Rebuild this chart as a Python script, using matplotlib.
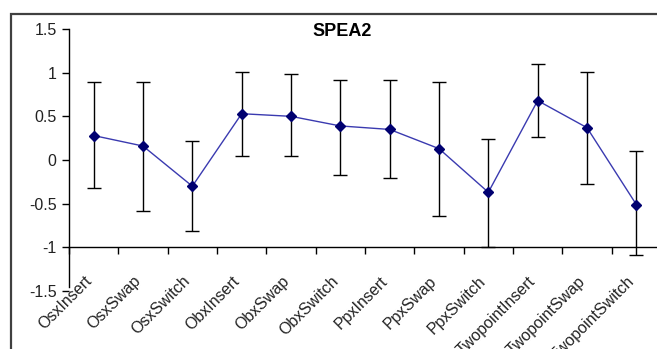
import matplotlib
matplotlib.use("Agg")
import matplotlib.pyplot as plt
from matplotlib.patches import Rectangle
import numpy as np

plt.rcParams['font.family'] = ['Liberation Sans', 'DejaVu Sans']

categories = ["OsxInsert", "OsxSwap", "OsxSwitch", "ObxInsert", "ObxSwap", "ObxSwitch",
              "PpxInsert", "PpxSwap", "PpxSwitch", "TwopointInsert", "TwopointSwap",
              "TwopointSwitch"]
means = [0.28, 0.16, -0.30, 0.53, 0.50, 0.39, 0.35, 0.13, -0.37, 0.68, 0.37, -0.51]
upper = [0.89, 0.89, 0.22, 1.01, 0.98, 0.92, 0.92, 0.89, 0.24, 1.10, 1.01, 0.10]
lower = [-0.32, -0.58, -0.81, 0.05, 0.05, -0.17, -0.21, -0.64, -1.00, 0.26, -0.28, -1.09]
yticks = [-1.5, -1, -0.5, 0, 0.5, 1, 1.5]
ytick_labels = ["-1.5", "-1", "-0.5", "0", "0.5", "1", "1.5"]

W, H = 657, 349
fig = plt.figure(figsize=(W / 100, H / 100), dpi=100)

# chart frame, running off the right and bottom edges
fig.patches.append(Rectangle((11 / W, -0.05), 1.0, 1 - 14 / H + 0.05,
                             transform=fig.transFigure, fill=False,
                             edgecolor="#404040", linewidth=1.6))

ax = fig.add_axes([69 / W, (H - 291) / H, (661 - 69) / W, (291 - 29) / H])
ax.patch.set_visible(False)

x = np.arange(len(categories)) + 0.5
m = np.array(means)
yerr = np.vstack([m - np.array(lower), np.array(upper) - m])

ax.errorbar(x, m, yerr=yerr, fmt="none", ecolor="black", elinewidth=1.0,
            capsize=5, capthick=1.0, clip_on=False, zorder=2)
ax.plot(x, m, color="#3a3ab0", linewidth=1.0, zorder=3, clip_on=False)
ax.plot(x, m, linestyle="none", marker="D", markersize=5, color="#000070",
        zorder=4, clip_on=False)

ax.set_xlim(0, 12)
ax.set_ylim(-1.5, 1.5)

ax.spines["top"].set_visible(False)
ax.spines["right"].set_visible(False)
ax.spines["bottom"].set_position(("data", -1))
ax.spines["left"].set_bounds(-1.45, 1.5)
for s in ("left", "bottom"):
    ax.spines[s].set_linewidth(1.0)
    ax.spines[s].set_color("black")

ax.set_yticks(yticks)
ax.set_yticklabels(ytick_labels, fontsize=11.5, color="#222222")
ax.tick_params(axis="y", direction="out", length=5, width=1, pad=4)

ax.set_xticks(np.arange(0, 13))
ax.set_xticklabels([])
ax.tick_params(axis="x", direction="out", length=5, width=1)

for xi, lab in zip(x, categories):
    ax.text(xi - 0.2, -1.3, lab, rotation=45, ha="right", va="top",
            rotation_mode="anchor", fontsize=11.5, color="#222222")

fig.text(342 / W, 1 - 32 / H, "SPEA2", ha="center", va="center",
         fontsize=13, fontweight="bold")

fig.savefig("out.png", dpi=100)
